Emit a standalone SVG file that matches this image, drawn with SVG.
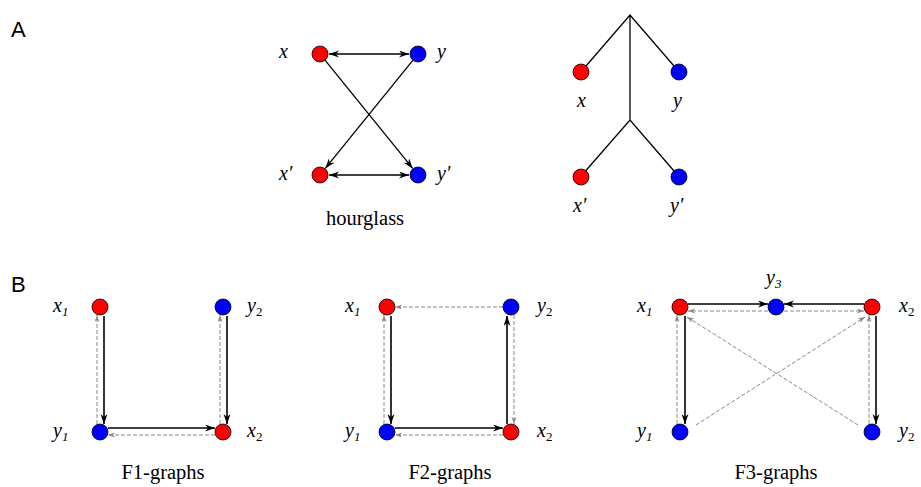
<svg xmlns="http://www.w3.org/2000/svg" width="921" height="487" viewBox="0 0 921 487">
<defs>
<marker id="ab" markerUnits="userSpaceOnUse" markerWidth="11" markerHeight="8" refX="10" refY="3.5" orient="auto-start-reverse">
<path d="M0,0 L10,3.5 L0,7 L3,3.5 z" fill="#000"/>
</marker>
<marker id="ag" markerUnits="userSpaceOnUse" markerWidth="8" markerHeight="6" refX="7" refY="2.5" orient="auto-start-reverse">
<path d="M0,0 L7,2.5 L0,5 L2,2.5 z" fill="#888"/>
</marker>
</defs>
<style>
.r{fill:#ff0000;stroke:#000;stroke-width:0.8}
.b{fill:#0000ff;stroke:#000;stroke-width:0.8}
.bk{stroke:#000;stroke-width:1.6;fill:none;marker-end:url(#ab)}
.hg{stroke:#000;stroke-width:1.3;fill:none;marker-end:url(#ab)}
.dbl{marker-start:url(#ab)}
.gr{stroke:#888;stroke-width:1;stroke-dasharray:4,2;fill:none;marker-end:url(#ag)}
.tr{stroke:#000;stroke-width:1.3;fill:none}
.lb{font-style:italic;font-size:20px}
.sb{font-size:13px}
.cap{font-size:20.5px;text-anchor:middle}
.pn{font-size:22px}
</style>
<text class="pn" font-family="Liberation Sans, Arial, sans-serif" x="11" y="37">A</text>
<text class="pn" font-family="Liberation Sans, Arial, sans-serif" x="11" y="292">B</text>
<g id="connectors">
<line class="hg dbl" x1="329" y1="54" x2="409" y2="54"/>
<line class="hg dbl" x1="329" y1="175" x2="409" y2="175"/>
<line class="hg" x1="325" y1="60.2" x2="412.7" y2="168.4"/>
<line class="hg" x1="413" y1="60.2" x2="325.3" y2="168.4"/>
<path class="tr" d="M586,66 L630,15 L674,66 M630,15 L630,120 M585.5,171 L630,120 L674,171"/>
<line class="bk" x1="104" y1="316" x2="104" y2="424"/>
<line class="gr" x1="97" y1="424" x2="97" y2="315"/>
<line class="bk" x1="227" y1="316" x2="227" y2="424"/>
<line class="gr" x1="220" y1="424" x2="220" y2="315"/>
<line class="bk" x1="108" y1="428" x2="215" y2="428"/>
<line class="gr" x1="215" y1="435" x2="108" y2="435"/>
<line class="bk" x1="391" y1="316" x2="391" y2="424"/>
<line class="gr" x1="384" y1="424" x2="384" y2="315"/>
<line class="bk" x1="395" y1="428" x2="503" y2="428"/>
<line class="gr" x1="503" y1="435" x2="395" y2="435"/>
<line class="bk" x1="507" y1="424" x2="507" y2="316"/>
<line class="gr" x1="514" y1="315" x2="514" y2="424"/>
<line class="gr" x1="503" y1="307" x2="395" y2="307"/>
<line class="bk" x1="688" y1="304" x2="768" y2="304"/>
<line class="gr" x1="768" y1="311" x2="688" y2="311"/>
<line class="bk" x1="864" y1="304" x2="784" y2="304"/>
<line class="gr" x1="784" y1="311" x2="864" y2="311"/>
<line class="bk" x1="685" y1="316" x2="685" y2="424"/>
<line class="gr" x1="677" y1="424" x2="677" y2="315"/>
<line class="bk" x1="876" y1="316" x2="876" y2="424"/>
<line class="gr" x1="869" y1="424" x2="869" y2="315"/>
<line class="gr" x1="858" y1="425" x2="687" y2="317"/>
<line class="gr" x1="696" y1="425" x2="865" y2="317"/>
</g>
<g font-family="Liberation Serif, Times New Roman, serif">
<g id="hg-x"><circle class="r" cx="320" cy="54" r="8"/><text class="lb" x="279" y="58">x</text></g>
<g id="hg-y"><circle class="b" cx="418" cy="54" r="8"/><text class="lb" x="437" y="58">y</text></g>
<g id="hg-x2"><circle class="r" cx="320" cy="175" r="8"/><text class="lb" x="279" y="180">x′</text></g>
<g id="hg-y2"><circle class="b" cx="418" cy="175" r="8"/><text class="lb" x="437" y="180">y′</text></g>
<text class="cap" x="365" y="225">hourglass</text>
<g id="tr-x"><circle class="r" cx="581" cy="72" r="8"/><text class="lb" x="577" y="107">x</text></g>
<g id="tr-y"><circle class="b" cx="679" cy="72" r="8"/><text class="lb" x="673" y="107">y</text></g>
<g id="tr-x2"><circle class="r" cx="581" cy="177" r="8"/><text class="lb" x="573" y="212">x′</text></g>
<g id="tr-y2"><circle class="b" cx="679" cy="177" r="8"/><text class="lb" x="670" y="212">y′</text></g>
<g id="f1-x1"><circle class="r" cx="100" cy="307" r="8"/><text class="lb" x="53" y="312">x<tspan class="sb" dy="4">1</tspan></text></g>
<g id="f1-y2"><circle class="b" cx="223" cy="307" r="8"/><text class="lb" x="247" y="312">y<tspan class="sb" dy="4" font-style="normal">2</tspan></text></g>
<g id="f1-y1"><circle class="b" cx="100" cy="432" r="8"/><text class="lb" x="53" y="437">y<tspan class="sb" dy="4">1</tspan></text></g>
<g id="f1-x2"><circle class="r" cx="223" cy="432" r="8"/><text class="lb" x="247" y="437">x<tspan class="sb" dy="4" font-style="normal">2</tspan></text></g>
<text class="cap" x="163" y="479">F1-graphs</text>
<g id="f2-x1"><circle class="r" cx="387" cy="307" r="8"/><text class="lb" x="345" y="312">x<tspan class="sb" dy="4">1</tspan></text></g>
<g id="f2-y2"><circle class="b" cx="511" cy="307" r="8"/><text class="lb" x="537" y="312">y<tspan class="sb" dy="4" font-style="normal">2</tspan></text></g>
<g id="f2-y1"><circle class="b" cx="387" cy="432" r="8"/><text class="lb" x="345" y="437">y<tspan class="sb" dy="4">1</tspan></text></g>
<g id="f2-x2"><circle class="r" cx="511" cy="432" r="8"/><text class="lb" x="537" y="437">x<tspan class="sb" dy="4" font-style="normal">2</tspan></text></g>
<text class="cap" x="450" y="479">F2-graphs</text>
<g id="f3-x1"><circle class="r" cx="680" cy="307" r="8"/><text class="lb" x="637" y="312">x<tspan class="sb" dy="4">1</tspan></text></g>
<g id="f3-y3"><circle class="b" cx="776" cy="307" r="8"/><text class="lb" x="766" y="284">y<tspan class="sb" dy="4">3</tspan></text></g>
<g id="f3-x2"><circle class="r" cx="872" cy="307" r="8"/><text class="lb" x="899" y="312">x<tspan class="sb" dy="4" font-style="normal">2</tspan></text></g>
<g id="f3-y1"><circle class="b" cx="680" cy="432" r="8"/><text class="lb" x="637" y="437">y<tspan class="sb" dy="4">1</tspan></text></g>
<g id="f3-y2"><circle class="b" cx="872" cy="432" r="8"/><text class="lb" x="899" y="437">y<tspan class="sb" dy="4" font-style="normal">2</tspan></text></g>
<text class="cap" x="776" y="479">F3-graphs</text>
</g>
</svg>
